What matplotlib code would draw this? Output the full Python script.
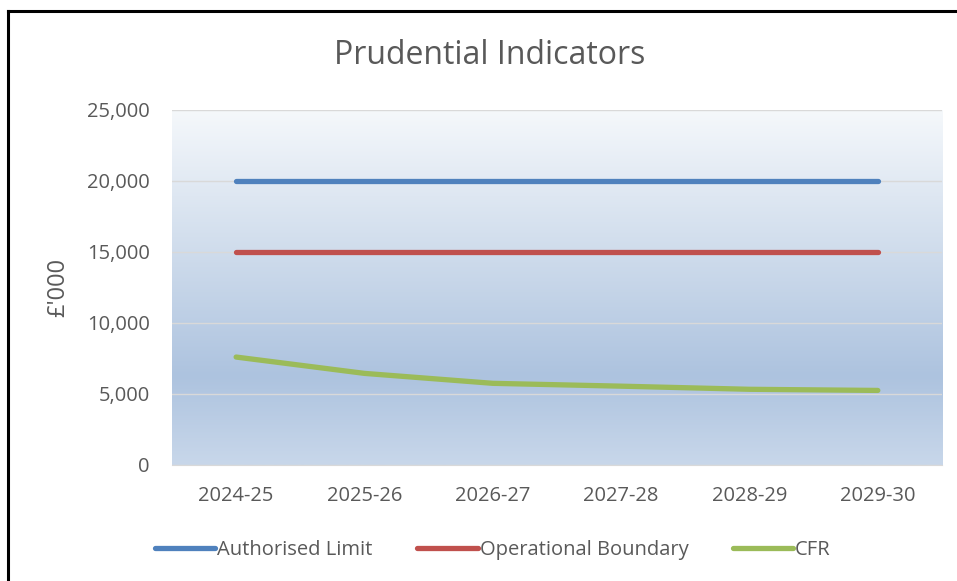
import numpy as np
import matplotlib.pyplot as plt
from matplotlib.colors import LinearSegmentedColormap
from matplotlib.lines import Line2D

years = ["2024-25", "2025-26", "2026-27", "2027-28", "2028-29", "2029-30"]
authorised_limit = [20000, 20000, 20000, 20000, 20000, 20000]
operational_boundary = [15000, 15000, 15000, 15000, 15000, 15000]
cfr = [7600, 6450, 5750, 5550, 5330, 5250]

series = {
    "Authorised Limit": (authorised_limit, "#4f81bd"),
    "Operational Boundary": (operational_boundary, "#c0504d"),
    "CFR": (cfr, "#9bbb59"),
}

plt.rcParams['font.family'] = ['Open Sans', 'DejaVu Sans']
text_col = "#595959"

fig = plt.figure(figsize=(9.57, 5.81), dpi=100)
ax = fig.add_axes([0.1797, 0.1997, 0.8046, 0.611])

# gradient background of the plot area (bottom -> top)
grad = LinearSegmentedColormap.from_list(
    "bg", [(0, "#c8d7ea"), (0.25, "#adc3df"), (0.6, "#cfdcec"), (1, "#f5f8fb")])
ax.imshow(np.linspace(0, 1, 256).reshape(-1, 1), cmap=grad, aspect="auto",
          origin="lower", extent=[0, 1, 0, 1], transform=ax.transAxes, zorder=0)

x = np.arange(len(years))
for name, (vals, col) in series.items():
    ax.plot(x, vals, color=col, lw=3.8, solid_capstyle="round",
            solid_joinstyle="round", label=name, zorder=3)

ax.set_xlim(-0.5, len(years) - 0.5)
ax.set_ylim(0, 25000)
ax.set_yticks(np.arange(0, 25001, 5000))
ax.set_yticklabels([f"{v:,}" for v in range(0, 25001, 5000)])
ax.set_xticks(x, years)
ax.grid(axis="y", color="#d9d9d9", lw=1, zorder=1)
ax.set_axisbelow(False)
for s in ["top", "right", "left"]:
    ax.spines[s].set_visible(False)
ax.spines["bottom"].set_color("#d9d9d9")
ax.tick_params(length=0, labelsize=14.5, colors=text_col)
ax.tick_params(axis="x", pad=15)
ax.tick_params(axis="y", pad=16)
ax.set_ylabel("£'000", fontsize=17, color=text_col, labelpad=12)

fig.text(0.512, 0.905, "Prudential Indicators", ha="center", va="center",
         fontsize=23, color=text_col)

handles = [Line2D([], [], color=c, lw=3.8, solid_capstyle="round") for _, c in series.values()]
leg = fig.legend(handles, list(series.keys()), loc="center", bbox_to_anchor=(0.515, 0.054),
                 ncol=3, frameon=False, handlelength=3.0, handletextpad=0.1,
                 columnspacing=2.2, fontsize=14.5)
for t in leg.get_texts():
    t.set_color(text_col)

# black frame (top and left visible, rest cropped)
fig.add_artist(Line2D([8 / 957, 1.0], [1 - 11 / 581, 1 - 11 / 581], transform=fig.transFigure,
                      color="black", lw=2.2))
fig.add_artist(Line2D([8 / 957, 8 / 957], [0, 1 - 11 / 581], transform=fig.transFigure,
                      color="black", lw=2.2))

fig.savefig("out.png", dpi=100)
